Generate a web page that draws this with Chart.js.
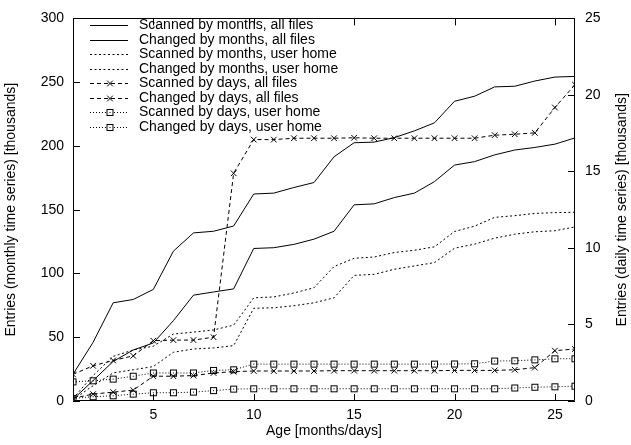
<!DOCTYPE html>
<html>
<head>
<meta charset="utf-8">
<script src="https://cdn.jsdelivr.net/npm/chart.js@4"></script>
<style>
  body { margin: 0; background: #fff; }
</style>
</head>
<body>
<canvas id="ageChart" width="631" height="445"></canvas>
<script>
// Age in months (monthly series) or days (daily series)
var ages = [1, 2, 3, 4, 5, 6, 7, 8, 9, 10, 11, 12, 13, 14, 15, 16, 17, 18, 19, 20, 21, 22, 23, 24, 25, 26];
var xTicks = [5, 10, 15, 20, 25];
var leftTicks = [0, 50, 100, 150, 200, 250, 300];
var rightTicks = [0, 5, 10, 15, 20, 25];

// Monthly time series, left axis [thousands]
var scannedMonthsAll = [21, 46, 77, 79.6, 87.5, 117.5, 131.8, 133.1, 137.2, 162.3, 163, 167.4, 171.3, 191.5, 202.5, 203, 206.5, 211.8, 218.1, 235, 239, 246.3, 246.8, 250.9, 254, 254.5];
var changedMonthsAll = [1.3, 16, 31, 40, 45.5, 63, 83, 85.5, 87.9, 119.6, 120.2, 122.8, 126.9, 133.1, 153.8, 154.6, 159.5, 163, 172, 185, 187.7, 193, 196.8, 198.8, 201.4, 206.3];
var scannedMonthsHome = [2, 20, 35, 40, 43, 52.5, 54, 55.7, 59.5, 80.9, 81.6, 84.7, 88.8, 105.4, 111.9, 112.9, 116.4, 118.2, 120.9, 132.9, 137.1, 144, 145.3, 147.1, 147.7, 148];
var changedMonthsHome = [1, 12, 22, 24.5, 27, 38.2, 40.8, 41.6, 43.4, 72.7, 73.1, 74.7, 77, 80.9, 98.5, 99.3, 103.3, 105.9, 108.5, 119.8, 123, 127.7, 130.8, 132.7, 133.5, 136.5];

// Daily time series, right axis [thousands]
var scannedDaysAll = [1.74, 2.30, 2.65, 2.95, 3.94, 3.98, 3.98, 4.17, 14.88, 17.08, 17.08, 17.17, 17.17, 17.17, 17.2, 17.17, 17.17, 17.17, 17.17, 17.17, 17.17, 17.37, 17.43, 17.52, 19.18, 20.67];
var changedDaysAll = [0.18, 0.45, 0.58, 0.71, 1.62, 1.62, 1.66, 1.83, 1.92, 1.96, 1.96, 1.96, 1.96, 1.98, 1.98, 1.98, 1.98, 1.98, 1.98, 2.0, 2.0, 2.0, 2.04, 2.18, 3.29, 3.40];
var scannedDaysHome = [1.25, 1.32, 1.43, 1.62, 1.83, 1.83, 1.83, 2.0, 2.04, 2.41, 2.41, 2.41, 2.41, 2.41, 2.41, 2.41, 2.41, 2.41, 2.41, 2.42, 2.43, 2.61, 2.63, 2.69, 2.76, 2.76];
var changedDaysHome = [0.17, 0.28, 0.34, 0.45, 0.54, 0.54, 0.58, 0.68, 0.78, 0.8, 0.8, 0.8, 0.8, 0.8, 0.8, 0.8, 0.8, 0.8, 0.8, 0.8, 0.8, 0.8, 0.85, 0.9, 0.93, 0.97];

var FONT = "'Liberation Sans', Arial, Helvetica, sans-serif";

function toPoints(vals) {
    return vals.map(function (v, i) { return { x: ages[i], y: v }; });
}

// gnuplot style box marker with a dot in the middle
function boxMarker() {
    var c = document.createElement('canvas');
    c.width = 9; c.height = 9;
    var g = c.getContext('2d');
    g.fillStyle = '#fff';
    g.fillRect(1, 1, 7, 7);
    g.strokeStyle = '#000';
    g.lineWidth = 1;
    g.strokeRect(1.5, 1.5, 6, 6);
    g.fillStyle = '#000';
    g.fillRect(4, 4, 1, 1);
    return c;
}
var box = boxMarker();

function series(label, vals, axis, dash, marker) {
    return {
        label: label,
        data: toPoints(vals),
        yAxisID: axis,
        borderColor: '#000',
        backgroundColor: '#000',
        borderWidth: 1,
        borderDash: dash,
        pointStyle: marker || false,
        pointRadius: marker ? 4 : 0,
        pointBorderWidth: 1,
        pointBorderColor: '#000',
        tension: 0,
        fill: false
    };
}

var dsets = [
    series('Scanned by months, all files', scannedMonthsAll, 'y', []),
    series('Changed by months, all files', changedMonthsAll, 'y', []),
    series('Scanned by months, user home', scannedMonthsHome, 'y', [2, 2.5]),
    series('Changed by months, user home', changedMonthsHome, 'y', [2, 2.5]),
    series('Scanned by days, all files', scannedDaysAll, 'y1', [4, 3], 'crossRot'),
    series('Changed by days, all files', changedDaysAll, 'y1', [4, 3], 'crossRot'),
    series('Scanned by days, user home', scannedDaysHome, 'y1', [1, 2], box),
    series('Changed by days, user home', changedDaysHome, 'y1', [1, 2], box)
];

// border, inward ticks, gnuplot legend and right title
var frame = {
    id: 'frame',
    afterDatasetsDraw: function (chart) {
        var ctx = chart.ctx, a = chart.chartArea;
        var sx = chart.scales.x, sl = chart.scales.y, sr = chart.scales.y1;
        ctx.save();
        ctx.strokeStyle = '#000';
        ctx.lineWidth = 1;
        ctx.setLineDash([]);
        ctx.beginPath();
        ctx.rect(Math.round(a.left) + 0.5, Math.round(a.top) + 0.5,
            Math.round(a.right - a.left) - 1, Math.round(a.bottom - a.top) - 1);
        var t = 7;
        xTicks.forEach(function (v) {
            var p = Math.round(sx.getPixelForValue(v)) + 0.5;
            ctx.moveTo(p, a.bottom); ctx.lineTo(p, a.bottom - t);
            ctx.moveTo(p, a.top); ctx.lineTo(p, a.top + t);
        });
        leftTicks.forEach(function (v) {
            var p = Math.round(sl.getPixelForValue(v)) + 0.5;
            ctx.moveTo(a.left, p); ctx.lineTo(a.left + t, p);
        });
        rightTicks.forEach(function (v) {
            var p = Math.round(sr.getPixelForValue(v)) + 0.5;
            ctx.moveTo(a.right, p); ctx.lineTo(a.right - t, p);
        });
        ctx.stroke();

        // legend
        ctx.font = '14px ' + FONT;
        ctx.fillStyle = '#000';
        ctx.textBaseline = 'middle';
        ctx.textAlign = 'left';
        chart.data.datasets.forEach(function (d, i) {
            var y = Math.round(25 + i * 14.5) + 0.5;
            ctx.save();
            ctx.setLineDash(d.borderDash);
            ctx.beginPath();
            ctx.moveTo(90, y); ctx.lineTo(128, y);
            ctx.stroke();
            ctx.restore();
            if (d.pointStyle) {
                Chart.helpers.drawPoint(ctx, { pointStyle: d.pointStyle, radius: 4, borderWidth: 1 }, 110, y);
            }
            ctx.fillText(d.label, 139, y);
        });

        // right axis title
        ctx.save();
        ctx.translate(622, (a.top + a.bottom) / 2);
        ctx.rotate(-Math.PI / 2);
        ctx.textAlign = 'center';
        ctx.fillText('Entries (daily time series) [thousands]', 0, 0);
        ctx.restore();
        ctx.restore();
    }
};

var ageCtx = document.getElementById('ageChart').getContext('2d');
var ageChart = new Chart(ageCtx, {
    type: 'line',
    data: { datasets: dsets },
    options: {
        responsive: false,
        animation: false,
        events: [],
        layout: { padding: { top: 14, left: 0, right: 0, bottom: 0 } },
        plugins: {
            legend: { display: false },
            tooltip: { enabled: false }
        },
        scales: {
            x: {
                type: 'linear',
                min: 1,
                max: 26,
                afterBuildTicks: function (s) { s.ticks = xTicks.map(function (v) { return { value: v }; }); },
                afterFit: function (s) { s.height = 44; },
                grid: { display: false, drawTicks: false },
                border: { display: false },
                ticks: { color: '#000', padding: 6, maxRotation: 0, font: { family: FONT, size: 14 } },
                title: { display: true, text: 'Age [months/days]', color: '#000', padding: { top: 0, bottom: 5 }, font: { family: FONT, size: 14 } }
            },
            y: {
                position: 'left',
                min: 0,
                max: 300,
                afterBuildTicks: function (s) { s.ticks = leftTicks.map(function (v) { return { value: v }; }); },
                afterFit: function (s) { s.width = 73; },
                grid: { display: false, drawTicks: false },
                border: { display: false },
                ticks: { color: '#000', padding: 9, font: { family: FONT, size: 14 } },
                title: { display: true, text: 'Entries (monthly time series) [thousands]', color: '#000', padding: { top: 3, bottom: 0 }, font: { family: FONT, size: 14 } }
            },
            y1: {
                position: 'right',
                min: 0,
                max: 25,
                afterBuildTicks: function (s) { s.ticks = rightTicks.map(function (v) { return { value: v }; }); },
                afterFit: function (s) { s.width = 56; },
                grid: { display: false, drawTicks: false },
                border: { display: false },
                ticks: { color: '#000', padding: 10, font: { family: FONT, size: 14 } }
            }
        }
    },
    plugins: [frame]
});
</script>
</body>
</html>
